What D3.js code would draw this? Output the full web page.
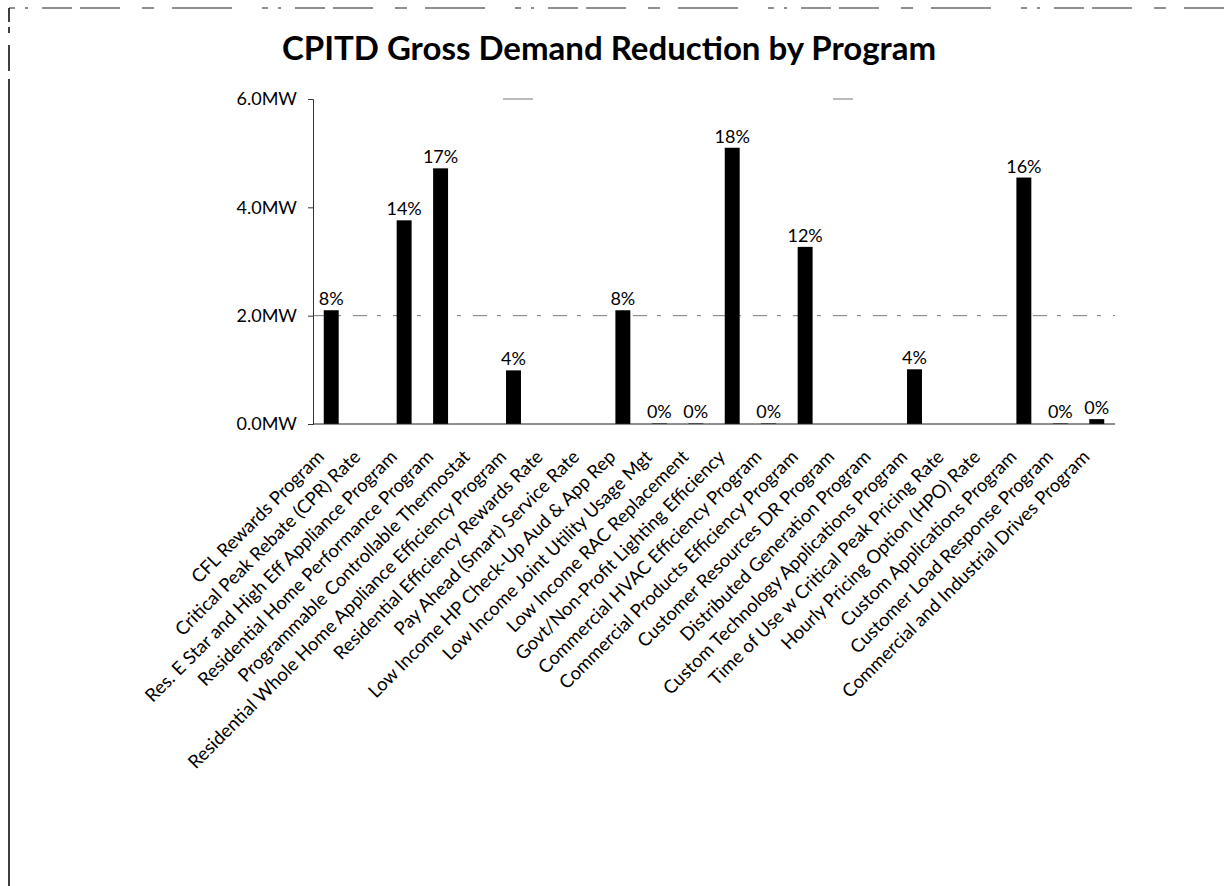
<!DOCTYPE html>
<html>
<head>
<meta charset="utf-8">
<script src="https://cdn.jsdelivr.net/npm/d3@7"></script>
<style>
  html, body { margin: 0; padding: 0; background: #fff; }
  svg { display: block; }
  text { font-family: Lato, "Open Sans", sans-serif; fill: #000; }
</style>
</head>
<body>
<svg id="chart" width="1224" height="886"></svg>
<script>
// Programs in display order
const programs = [
  "CFL Rewards Program",
  "Critical Peak Rebate (CPR) Rate",
  "Res. E Star and High Eff Appliance Program",
  "Residential Home Performance Program",
  "Programmable Controllable Thermostat",
  "Residential Whole Home Appliance Efficiency Program",
  "Residential Efficiency Rewards Rate",
  "Pay Ahead (Smart) Service Rate",
  "Low Income HP Check-Up Aud & App Rep",
  "Low Income Joint Utility Usage Mgt",
  "Low Income RAC Replacement",
  "Govt/Non-Profit Lighting Efficiency",
  "Commercial HVAC Efficiency Program",
  "Commercial Products Efficiency Program",
  "Customer Resources DR Program",
  "Distributed Generation Program",
  "Custom Technology Applications Program",
  "Time of Use w Critical Peak Pricing Rate",
  "Hourly Pricing Option (HPO) Rate",
  "Custom Applications Program",
  "Customer Load Response Program",
  "Commercial and Industrial Drives Program"
];

// Gross demand reduction, MW
const demandMW = [
  2.10, 0, 3.76, 4.72, 0, 0.99, 0, 0, 2.10, 0.01, 0.01,
  5.10, 0.01, 3.27, 0, 0, 1.01, 0, 0, 4.55, 0.01, 0.09
];

const yTicks = [0, 2, 4, 6];
const gridTicks = [2, 6];

const svg = d3.select("#chart");

// Page frame
svg.append("line")
  .attr("x1", 9).attr("x2", 9).attr("y1", 8).attr("y2", 886)
  .attr("stroke", "#111").attr("stroke-width", 1.6)
  .attr("stroke-dasharray", "14,5,6,12,26,8,900");
svg.append("line")
  .attr("x1", 9).attr("x2", 1224).attr("y1", 8).attr("y2", 8)
  .attr("stroke", "#222").attr("stroke-width", 1.2)
  .attr("stroke-dasharray", "6,10,3,14,30,8,40,22,12,18,60,30");

// Title
svg.append("text")
  .attr("x", 609).attr("y", 60)
  .attr("text-anchor", "middle")
  .style("font-size", "33px").style("font-weight", "bold")
  .text("CPITD Gross Demand Reduction by Program");

const x = d3.scaleBand()
  .domain(programs)
  .range([313, 1115])
  .paddingInner(0.59)
  .paddingOuter(0.295);

const y = d3.scaleLinear().domain([0, 6]).range([424, 99]);

// Gridlines
svg.append("g").selectAll("line")
  .data(gridTicks)
  .join("line")
  .attr("x1", 313).attr("x2", 1115)
  .attr("y1", d => y(d)).attr("y2", d => y(d))
  .attr("stroke", "#777").attr("stroke-width", 1)
  .attr("stroke-dasharray", (d, i) => i === 0 ? "14,10,4,12" : "0,190,30,300,20,400");

// Y axis
const yAxis = svg.append("g")
  .attr("transform", "translate(313,0)")
  .call(d3.axisLeft(y).tickValues(yTicks).tickSize(5).tickPadding(11)
    .tickFormat(d => d.toFixed(1) + "MW"));
yAxis.selectAll("text").style("font-size", "18px").style("font-family", "Lato, sans-serif");
yAxis.selectAll("path, line").attr("stroke", "#333");

// Bars
const total = d3.sum(demandMW);
const data = programs.map((p, i) => ({ program: p, mw: demandMW[i] }));

svg.append("g").selectAll("rect")
  .data(data)
  .join("rect")
  .attr("x", d => x(d.program))
  .attr("width", x.bandwidth())
  .attr("y", d => y(d.mw))
  .attr("height", d => y(0) - y(d.mw))
  .attr("fill", "#000");

// X baseline
svg.append("line")
  .attr("x1", 313).attr("x2", 1115)
  .attr("y1", y(0)).attr("y2", y(0))
  .attr("stroke", "#222").attr("stroke-width", 1.2);

// Share-of-total labels
svg.append("g").selectAll("text")
  .data(data.filter(d => d.mw > 0))
  .join("text")
  .attr("x", d => x(d.program) + x.bandwidth() / 2)
  .attr("y", d => y(d.mw) - 5)
  .attr("text-anchor", "middle")
  .style("font-size", "18px")
  .text(d => d3.format(".0%")(d.mw / total));

// Category labels
svg.append("g").selectAll("text")
  .data(programs)
  .join("text")
  .attr("transform", d => `translate(${x(d) + x.bandwidth() / 2 - 6},${y(0) + 34}) rotate(-45)`)
  .attr("text-anchor", "end")
  .style("font-size", "18.5px")
  .text(d => d);
</script>
</body>
</html>
